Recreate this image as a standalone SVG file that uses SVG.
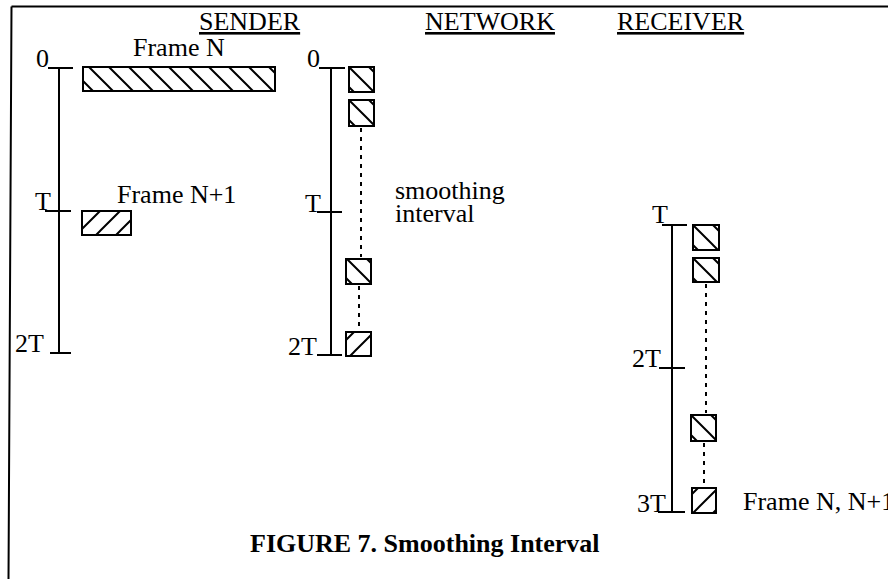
<svg xmlns="http://www.w3.org/2000/svg" width="888" height="579" viewBox="0 0 888 579">
<style>
text{font-family:"Liberation Serif","Times New Roman",serif;font-size:26px;fill:#000}
.hdr{text-decoration:underline}
.cap{font-weight:bold}
.ax{stroke:#000;stroke-width:2;fill:none}
.box{stroke:#000;stroke-width:2}
.dot{stroke:#000;stroke-width:2;stroke-dasharray:4 5;fill:none}
</style>
<defs>
<pattern id="hb" patternUnits="userSpaceOnUse" width="20" height="20">
<path d="M0,0 L20,20 M-2,18 L2,22 M18,-2 L22,2" stroke="#000" stroke-width="2"/>
</pattern>
<pattern id="hf" patternUnits="userSpaceOnUse" width="20" height="20">
<path d="M0,20 L20,0 M-2,2 L2,-2 M18,22 L22,18" stroke="#000" stroke-width="2"/>
</pattern>
</defs>
<rect width="888" height="579" fill="#fff"/>
<g id="border" class="ax">
<path d="M11.5,6.5 L888,6.5 M11.5,6.5 L8.5,579"/>
</g>
<g id="headers">
<text class="hdr" x="199" y="30">SENDER</text>
<text class="hdr" x="425" y="30">NETWORK</text>
<text class="hdr" x="617" y="30">RECEIVER</text>
</g>
<g id="sender">
<path class="ax" d="M59,68 V353 M48,68 H73 M45,211 H71 M50,353 H71"/>
<text x="36" y="67">0</text>
<text x="35" y="210">T</text>
<text x="15" y="352">2T</text>
<text x="133" y="56">Frame N</text>
<text x="117" y="203">Frame N+1</text>
<g id="frameN" transform="translate(89,67)"><rect class="box" x="-6" y="0" width="192" height="24" fill="url(#hb)"/></g>
<g id="frameN1" transform="translate(100,211)"><rect class="box" x="-18" y="0" width="49" height="24" fill="url(#hf)"/></g>
</g>
<g id="network">
<path class="ax" d="M331,68 V355 M319,68 H345 M317,212 H342 M317,355 H342"/>
<text x="307" y="67">0</text>
<text x="305" y="212">T</text>
<text x="288" y="355">2T</text>
<text x="395" y="199">smoothing</text>
<text x="395" y="222">interval</text>
<g id="nb1" transform="translate(349,67)"><rect class="box" width="25" height="25" fill="url(#hb)"/></g>
<g id="nb2" transform="translate(349,100)"><rect class="box" width="25" height="26" fill="url(#hb)"/></g>
<g id="nb3" transform="translate(347,259)"><rect class="box" x="-1" width="25" height="25" fill="url(#hb)"/></g>
<g id="nb4" transform="translate(354,332)"><rect class="box" x="-8" width="25" height="24" fill="url(#hf)"/></g>
</g>
<g id="receiver">
<path class="ax" d="M672,225 V512 M662,225 H687 M659,368 H685 M658,512 H685"/>
<text x="652" y="223">T</text>
<text x="632" y="367">2T</text>
<text x="637" y="512">3T</text>
<text x="743" y="510">Frame N, N+1</text>
<g id="rb1" transform="translate(693,225)"><rect class="box" width="26" height="25" fill="url(#hb)"/></g>
<g id="rb2" transform="translate(693,258)"><rect class="box" width="26" height="24" fill="url(#hb)"/></g>
<g id="rb3" transform="translate(691,415)"><rect class="box" width="25" height="26" fill="url(#hb)"/></g>
<g id="rb4" transform="translate(698,488)"><rect class="box" x="-6" width="24" height="25" fill="url(#hf)"/></g>
</g>
<g id="connectors">
<path class="dot" d="M361,128 V257 M359,286 V330"/>
<path class="dot" d="M706,284 V413 M704,443 V486"/>
</g>
<text class="cap" x="250" y="552">FIGURE 7. Smoothing Interval</text>
</svg>
